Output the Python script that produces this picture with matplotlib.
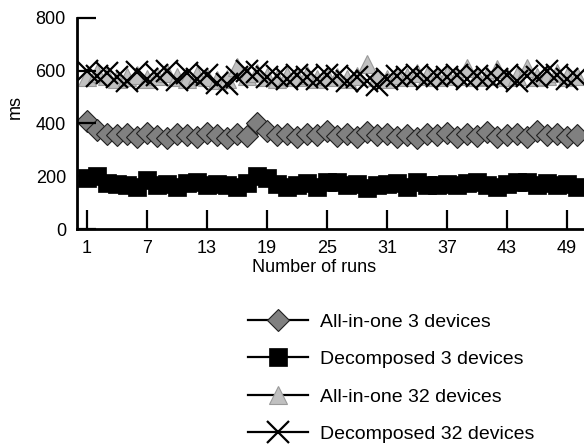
import matplotlib
matplotlib.use("Agg")
import matplotlib.pyplot as plt
from matplotlib.lines import Line2D

plt.rcParams['font.family'] = ['Liberation Sans', 'DejaVu Sans']

runs = list(range(1, 51))
allinone_3 = [410, 375, 362, 355, 360, 350, 365, 352, 345, 360,
              355, 350, 365, 358, 345, 360, 352, 400, 372, 355,
              360, 348, 362, 355, 370, 352, 360, 350, 368, 355,
              362, 350, 358, 345, 360, 355, 365, 348, 360, 352,
              366, 350, 358, 362, 348, 370, 355, 360, 350, 355]
decomposed_3 = [195, 200, 175, 172, 165, 160, 185, 168, 170, 160,
                175, 178, 165, 170, 165, 160, 175, 200, 195, 170,
                160, 165, 175, 160, 178, 178, 165, 172, 155, 165,
                170, 175, 160, 178, 165, 165, 170, 165, 175, 180,
                165, 160, 170, 180, 180, 165, 175, 165, 170, 160]
allinone_32 = [575, 590, 580, 570, 575, 585, 570, 580, 590, 575,
               570, 585, 575, 565, 570, 615, 580, 590, 575, 570,
               580, 575, 585, 570, 580, 575, 570, 580, 625, 575,
               570, 585, 575, 590, 580, 575, 585, 580, 610, 575,
               580, 605, 575, 580, 612, 575, 580, 590, 575, 580]
decomposed_32 = [600, 580, 590, 575, 560, 595, 570, 585, 600, 565,
                 590, 570, 585, 555, 550, 575, 600, 595, 575, 580,
                 570, 585, 575, 570, 585, 580, 560, 575, 560, 545,
                 570, 580, 575, 585, 570, 580, 575, 585, 570, 580,
                 575, 570, 585, 560, 580, 575, 600, 585, 570, 575]
xticks = [1, 7, 13, 19, 25, 31, 37, 43, 49]
yticks = [0, 200, 400, 600, 800]
labels = ["All-in-one 3 devices", "Decomposed 3 devices",
          "All-in-one 32 devices", "Decomposed 32 devices"]

W, H = 584, 448
fig = plt.figure(figsize=(W / 100, H / 100), dpi=100)
ax = fig.add_axes([77 / W, 1 - 229 / H, (584 - 77) / W, (229 - 18) / H])

styles = [
    dict(marker='D', markersize=11, markerfacecolor='#808080', markeredgecolor='#202020', markeredgewidth=0.8),
    dict(marker='s', markersize=13.5, markerfacecolor='black', markeredgecolor='black', markeredgewidth=0.5),
    dict(marker='^', markersize=13, markerfacecolor='#c0c0c0', markeredgecolor='#9a9a9a', markeredgewidth=0.8),
    dict(marker='x', markersize=16, markeredgecolor='black', markeredgewidth=1.6),
]
series = [allinone_3, decomposed_3, allinone_32, decomposed_32]
for s, st in zip(series, styles):
    ax.plot(runs, s, linestyle='none', **st, zorder=2)

ax.set_xlim(0, 50.7)
ax.set_ylim(0, 800)
ax.set_xticks(xticks)
ax.set_yticks(yticks)
for sp in ['top', 'right']:
    ax.spines[sp].set_visible(False)
for sp in ['left', 'bottom']:
    ax.spines[sp].set_linewidth(2)
    ax.spines[sp].set_zorder(5)
ax.tick_params(axis='both', direction='in', length=14, width=1.6, labelsize=13, pad=8)
ax.set_axisbelow(False)

fig.text(15 / W, 1 - 107 / H, "ms", rotation=90, ha='center', va='center', fontsize=13)
fig.text(314 / W, 1 - 268 / H, "Number of runs", ha='center', va='center', fontsize=13)

handles = [Line2D([0], [0], color='black', linewidth=1.6, **st) for st in styles]
fig.legend(handles, labels, loc='upper left', bbox_to_anchor=(248 / W, 1 - 313 / H),
           frameon=False, fontsize=14, handlelength=3.1, handletextpad=0.6,
           labelspacing=1.02, borderpad=0, borderaxespad=0)

fig.savefig("out.png", dpi=100)
